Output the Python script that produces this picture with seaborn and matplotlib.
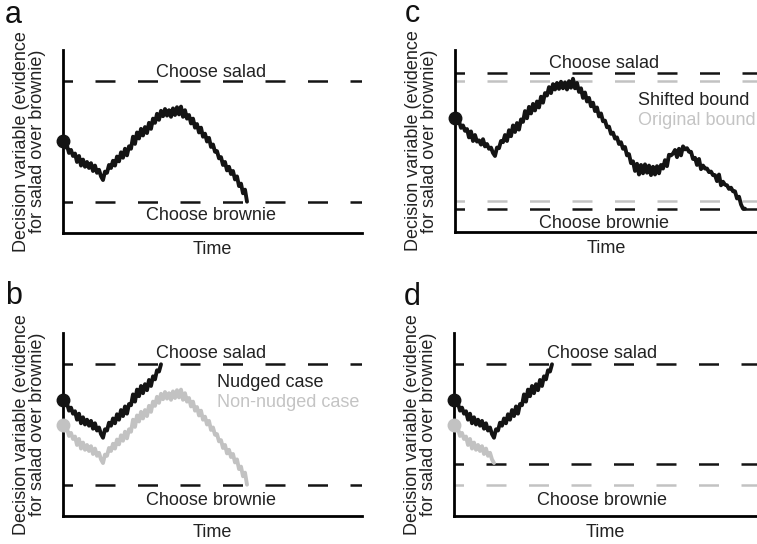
import numpy as np
import matplotlib
matplotlib.use("Agg")
import matplotlib.pyplot as plt
import seaborn as sns

# ---------------- data ----------------
DT = 2  # sampling step of the traces (time units)

# non-nudged trace (panel a, grey trace in panel b), start = 0, hits lower bound
nonnudged = [0.00, -0.10, -0.07, -0.19, -0.14, -0.24, -0.20, -0.34, -0.24, -0.40,
             -0.30, -0.42, -0.34, -0.44, -0.36, -0.49, -0.40, -0.52, -0.47, -0.58,
             -0.64, -0.50, -0.52, -0.39, -0.44, -0.32, -0.40, -0.25, -0.33, -0.18,
             -0.27, -0.12, -0.23, -0.08, -0.12, 0.08, -0.04, 0.15, 0.05, 0.21,
             0.10, 0.24, 0.14, 0.31, 0.21, 0.38, 0.31, 0.46, 0.36, 0.51,
             0.42, 0.54, 0.43, 0.52, 0.41, 0.55, 0.44, 0.57, 0.45, 0.58,
             0.41, 0.52, 0.38, 0.44, 0.30, 0.38, 0.23, 0.29, 0.15, 0.23,
             0.08, 0.13, 0.00, 0.06, -0.09, -0.05, -0.17, -0.16, -0.28, -0.26,
             -0.39, -0.34, -0.48, -0.42, -0.54, -0.49, -0.63, -0.58, -0.74, -0.70,
             -0.86, -0.80, -1.00]

# nudged trace (black, panels b and d), start shifted up, hits upper bound
nudged = [0.41, 0.32, 0.35, 0.23, 0.28, 0.18, 0.22, 0.08, 0.18, 0.02,
          0.12, 0.00, 0.08, -0.02, 0.06, -0.07, 0.02, -0.10, -0.05, -0.16,
          -0.22, -0.08, -0.10, 0.03, -0.02, 0.10, 0.02, 0.17, 0.08, 0.24,
          0.14, 0.30, 0.18, 0.34, 0.32, 0.50, 0.38, 0.58, 0.47, 0.64,
          0.52, 0.67, 0.57, 0.74, 0.64, 0.80, 0.75, 0.90, 0.88, 1.00]

# panel c trace (shifted bounds)
shifted_case = [0.38, 0.30, 0.33, 0.22, 0.26, 0.17, 0.20, 0.06, 0.16, 0.00,
                0.10, -0.01, 0.01, -0.06, 0.03, -0.09, -0.05, -0.13, -0.11, -0.20,
                -0.25, -0.11, -0.12, 0.00, -0.02, 0.10, 0.00, 0.18, 0.08, 0.26,
                0.15, 0.30, 0.19, 0.36, 0.32, 0.50, 0.38, 0.57, 0.46, 0.62,
                0.51, 0.66, 0.56, 0.74, 0.64, 0.80, 0.76, 0.90, 0.80, 0.95,
                0.86, 0.97, 0.87, 0.99, 0.88, 0.98, 0.86, 1.00, 0.89, 1.04,
                0.88, 0.97, 0.82, 0.88, 0.72, 0.81, 0.66, 0.72, 0.58, 0.64,
                0.50, 0.56, 0.41, 0.46, 0.33, 0.34, 0.23, 0.24, 0.12, 0.14,
                0.04, 0.06, -0.05, -0.02, -0.13, -0.10, -0.24, -0.22, -0.37, -0.34,
                -0.50, -0.38, -0.56, -0.40, -0.54, -0.39, -0.53, -0.41, -0.57, -0.43,
                -0.56, -0.42, -0.54, -0.40, -0.46, -0.32, -0.42, -0.23, -0.24, -0.21,
                -0.15, -0.27, -0.13, -0.24, -0.09, -0.14, -0.12, -0.18, -0.18, -0.30,
                -0.28, -0.40, -0.30, -0.47, -0.41, -0.46, -0.46, -0.52, -0.51, -0.57,
                -0.57, -0.67, -0.56, -0.74, -0.68, -0.73, -0.74, -0.80, -0.78, -0.84,
                -0.84, -0.96, -0.93, -1.06, -1.13, -1.13]

# grey trace in panel d: the non-nudged trace until it meets the moved bound
d_gray_len = 21

bound_orig = [1.0, -1.0]
bound_shift_c = [1.13, -1.13]
bound_shift_d = [1.0, -0.66]

labels_bounds = ["Choose salad", "Choose brownie"]
legend_b = ["Nudged case", "Non-nudged case"]
legend_c = ["Shifted bound", "Original bound"]
panel_letters = ["a", "b", "c", "d"]

# ---------------- style ----------------
sns.set_theme(style="white")
plt.rcParams['font.family'] = ['Liberation Sans', 'DejaVu Sans']

BLACK = "#141414"
GRAY = "#c2c2c2"
GRAY_TXT = "#c4c4c4"
FS = 13

W, H = 757, 544
fig = plt.figure(figsize=(W / 100, H / 100), dpi=100)


def add_ax(l, t, r, b):
    return fig.add_axes([l / W, 1 - b / H, (r - l) / W, (b - t) / H])


DASH = (4.2, (8.0, 9.0))
BLW = 1.8


def setup(ax, xmax):
    ax.set_xlim(0, xmax)
    ax.set_ylim(-1.52, 1.52)
    ax.set_xticks([])
    ax.set_yticks([])
    sns.despine(ax=ax)
    for s in ("left", "bottom"):
        ax.spines[s].set_color("black")
        ax.spines[s].set_linewidth(2.0)
    ax.set_ylabel("Decision variable (evidence\nfor salad over brownie)",
                  fontsize=FS, labelpad=12, linespacing=0.95, color="#222222")
    ax.set_xlabel("Time", fontsize=FS, labelpad=6, color="#222222")
    ax.set_facecolor("white")


def trace(ax, vals, color):
    t = np.arange(len(vals)) * DT
    sns.lineplot(x=t, y=np.asarray(vals), ax=ax, color=color, lw=2.8,
                 sort=False, estimator=None, zorder=3)
    ax.plot([0], [vals[0]], "o", ms=9, color=color, clip_on=False, zorder=5)


def bound(ax, y, color):
    ax.axhline(y, color=color, lw=BLW, linestyle=DASH, zorder=2)


def bound_text(ax, xc, y_top, y_bot):
    ax.text(xc, y_top, labels_bounds[0], ha="center", va="baseline",
            fontsize=FS, color="#222222")
    ax.text(xc, y_bot, labels_bounds[1], ha="center", va="baseline",
            fontsize=FS, color="#222222")


# panel a
ax_a = add_ax(63, 50, 362, 233)
setup(ax_a, 299)
for y in bound_orig:
    bound(ax_a, y, BLACK)
trace(ax_a, nonnudged, BLACK)
bound_text(ax_a, 148, 1.07, -1.30)

# panel c
ax_c = add_ax(455, 50, 757, 232)
setup(ax_c, 302)
for y in bound_orig:
    bound(ax_c, y, GRAY)
for y in bound_shift_c:
    bound(ax_c, y, BLACK)
trace(ax_c, shifted_case, BLACK)
bound_text(ax_c, 149, 1.22, -1.45)
ax_c.text(183, 0.60, legend_c[0], fontsize=FS, color="#222222", va="baseline")
ax_c.text(183, 0.27, legend_c[1], fontsize=FS, color=GRAY_TXT, va="baseline",
          clip_on=False)

# panel b
ax_b = add_ax(63, 333, 362, 516)
setup(ax_b, 299)
for y in bound_orig:
    bound(ax_b, y, BLACK)
trace(ax_b, nonnudged, GRAY)
trace(ax_b, nudged, BLACK)
bound_text(ax_b, 148, 1.10, -1.34)
ax_b.text(154, 0.63, legend_b[0], fontsize=FS, color="#222222", va="baseline")
ax_b.text(154, 0.29, legend_b[1], fontsize=FS, color=GRAY_TXT, va="baseline")

# panel d
ax_d = add_ax(454, 333, 757, 516)
setup(ax_d, 303)
bound(ax_d, bound_orig[1], GRAY)
for y in bound_shift_d:
    bound(ax_d, y, BLACK)
trace(ax_d, nonnudged[:d_gray_len], GRAY)
trace(ax_d, nudged, BLACK)
bound_text(ax_d, 148, 1.10, -1.34)

# panel letters
for letter, (px, py) in zip(panel_letters, [(5, 23), (5, 304), (405, 22), (404, 305)]):
    fig.text(px / W, 1 - py / H, letter, fontsize=22, va="baseline", ha="left",
             color="#111111")

fig.savefig("out.png", dpi=100, facecolor="white")
